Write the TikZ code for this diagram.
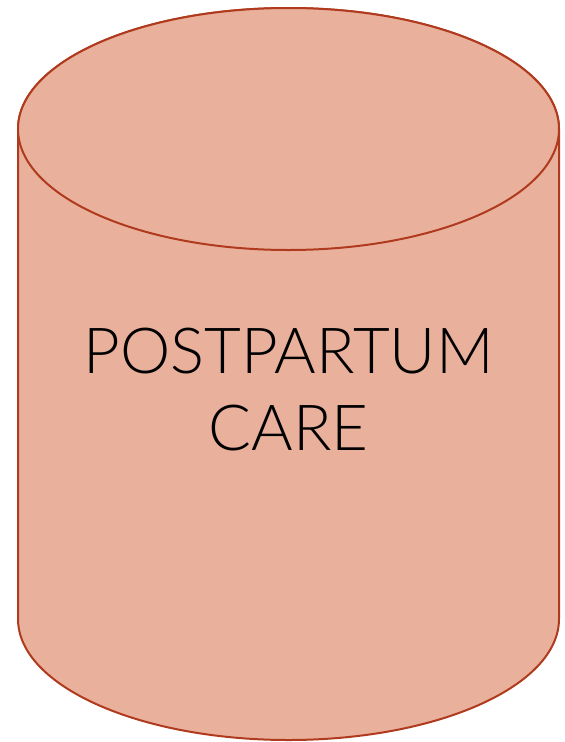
\documentclass[tikz,border=0pt]{standalone}
\usepackage{fontspec}
\setmainfont{Lato Light}
\definecolor{cylfill}{HTML}{E9B09C}
\definecolor{cylline}{HTML}{B03A1E}
\begin{document}
\begin{tikzpicture}[x=1pt,y=-1pt,
  cyl/.style={fill=cylfill,draw=cylline,line width=2pt},
  lbl/.style={anchor=base,inner sep=0pt,font=\fontsize{63.5}{63.5}\selectfont,text=black}]
\useasboundingbox (0,0) rectangle (565,742);
\path[cyl] (18,129) -- (18,619) arc[start angle=180,end angle=0,x radius=270.5,y radius=121]
  -- (559,129) arc[start angle=0,end angle=-180,x radius=270.5,y radius=121] -- cycle;
\draw[cyl] (288.5,129) ellipse[x radius=270.5,y radius=121];
\node[lbl] (t1) at (288.5,373) {POSTPARTUM};
\node[lbl] (t2) at (288.5,450) {CARE};
\end{tikzpicture}
\end{document}
